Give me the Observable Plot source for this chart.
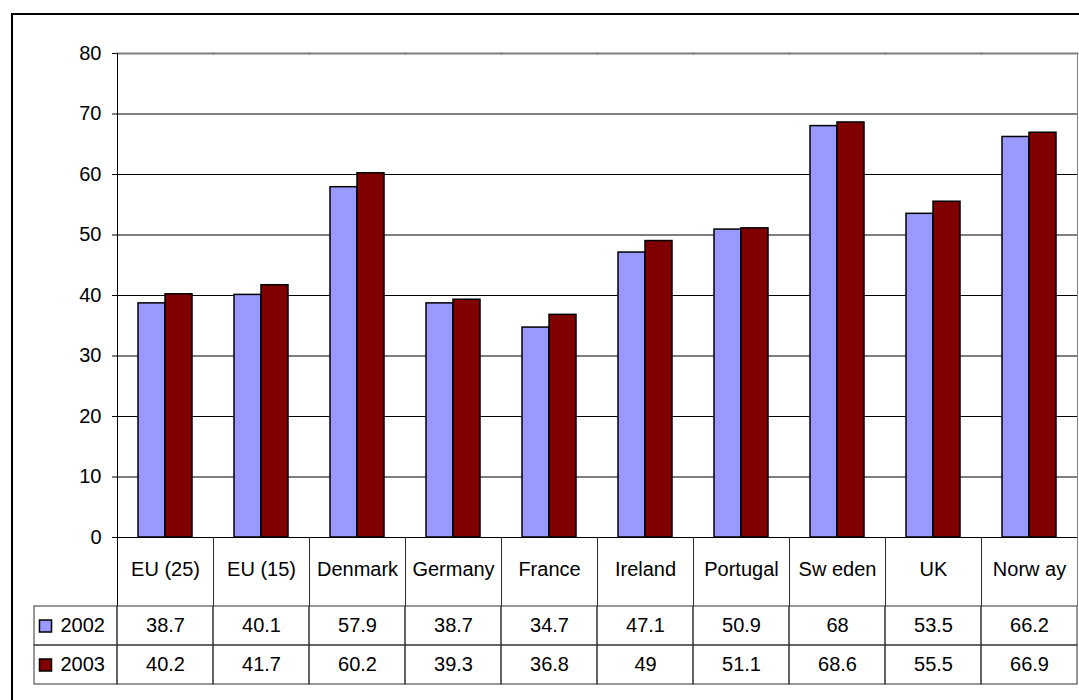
<!DOCTYPE html>
<html><head><meta charset="utf-8">
<script src="https://cdn.jsdelivr.net/npm/d3@7"></script>
<script src="https://cdn.jsdelivr.net/npm/@observablehq/plot@0.6"></script>
<style>
html,body{margin:0;padding:0;background:#fff;overflow:hidden;width:1079px;height:700px;}
#wrap{position:relative;width:1079px;height:700px;font-family:"Liberation Sans",Arial,sans-serif;}
#chart,#table{position:absolute;left:0;}
#chart{top:0}
#table{top:604px}
#border{position:absolute;left:11px;top:13px;width:2000px;height:2000px;border:2px solid #000;pointer-events:none;}
</style></head><body><div id="wrap"><div id="chart"></div><div id="table"></div><div id="border"></div></div>
<script>
const categories = ["EU (25)", "EU (15)", "Denmark", "Germany", "France", "Ireland", "Portugal", "Sw eden", "UK", "Norw ay"];
const years = ["2002", "2003"];
const values2002 = [38.7, 40.1, 57.9, 38.7, 34.7, 47.1, 50.9, 68, 53.5, 66.2];
const values2003 = [40.2, 41.7, 60.2, 39.3, 36.8, 49, 51.1, 68.6, 55.5, 66.9];
const gridTicks = [10, 20, 30, 40, 50, 60, 70];
const colors = ["#9999FF", "#800000"];

const rows = categories.flatMap((c, i) => [
  {cat: c, year: "2002", value: values2002[i]},
  {cat: c, year: "2003", value: values2003[i]}
]);

const font = {fontFamily: '"Liberation Sans", Arial, sans-serif', fontSize: "20px", color: "#000", background: "transparent", overflow: "visible"};

const chart = Plot.plot({
  width: 1079, height: 605,
  marginLeft: 116, marginRight: 2, marginTop: 53, marginBottom: 68,
  style: font,
  fx: {domain: categories, padding: 0, label: null, tickSize: 0, tickPadding: 24, axis: "bottom"},
  x: {domain: years, paddingInner: 0, paddingOuter: 0.745, axis: null},
  y: {domain: [0, 80], ticks: 8, tickSize: 5, tickPadding: 11, label: null},
  color: {domain: years, range: colors},
  marks: [
    Plot.ruleY(gridTicks, {stroke: "#000"}),
    Plot.frame({anchor: "top", stroke: "#808080", strokeWidth: 2}),
    Plot.barY(rows, {fx: "cat", x: "year", y: "value", fill: "year", stroke: "#000", strokeWidth: 1.5}),
    Plot.ruleY([0], {stroke: "#000"}),
    Plot.frame({anchor: "left", stroke: "#333", insetTop: 484, insetBottom: -68}),
    Plot.frame({anchor: "left", stroke: "#000", insetBottom: -68, fx: () => categories[0]}),
    Plot.frame({anchor: "right", stroke: "#808080", insetBottom: -68, fx: () => categories[categories.length - 1]})
  ]
});
document.getElementById("chart").appendChild(chart);

const table = Plot.plot({
  width: 1079, height: 82,
  marginLeft: 20, marginRight: 2, marginTop: 1, marginBottom: 1.5,
  style: font,
  x: {domain: ["legend", ...categories], padding: 0, axis: null},
  y: {domain: years, padding: 0, axis: null},
  color: {domain: years, range: colors},
  marks: [
    Plot.cell(rows, {x: "cat", y: "year", fill: "none", stroke: "#333"}),
    Plot.cell(years, {x: () => "legend", y: d => d, fill: "none", stroke: "#333", insetLeft: 13}),
    Plot.dot(years, {x: () => "legend", y: d => d, symbol: "square", r: 6.8, fill: d => d, stroke: "#000", strokeWidth: 1.5, dx: -24}),
    Plot.text(years, {x: () => "legend", y: d => d, text: d => d, textAnchor: "start", dx: -9, fontSize: 20, fill: "#000"}),
    Plot.text(rows, {x: "cat", y: "year", text: d => String(d.value), fontSize: 20, fill: "#000"})
  ]
});
document.getElementById("table").appendChild(table);
</script>
</body></html>
